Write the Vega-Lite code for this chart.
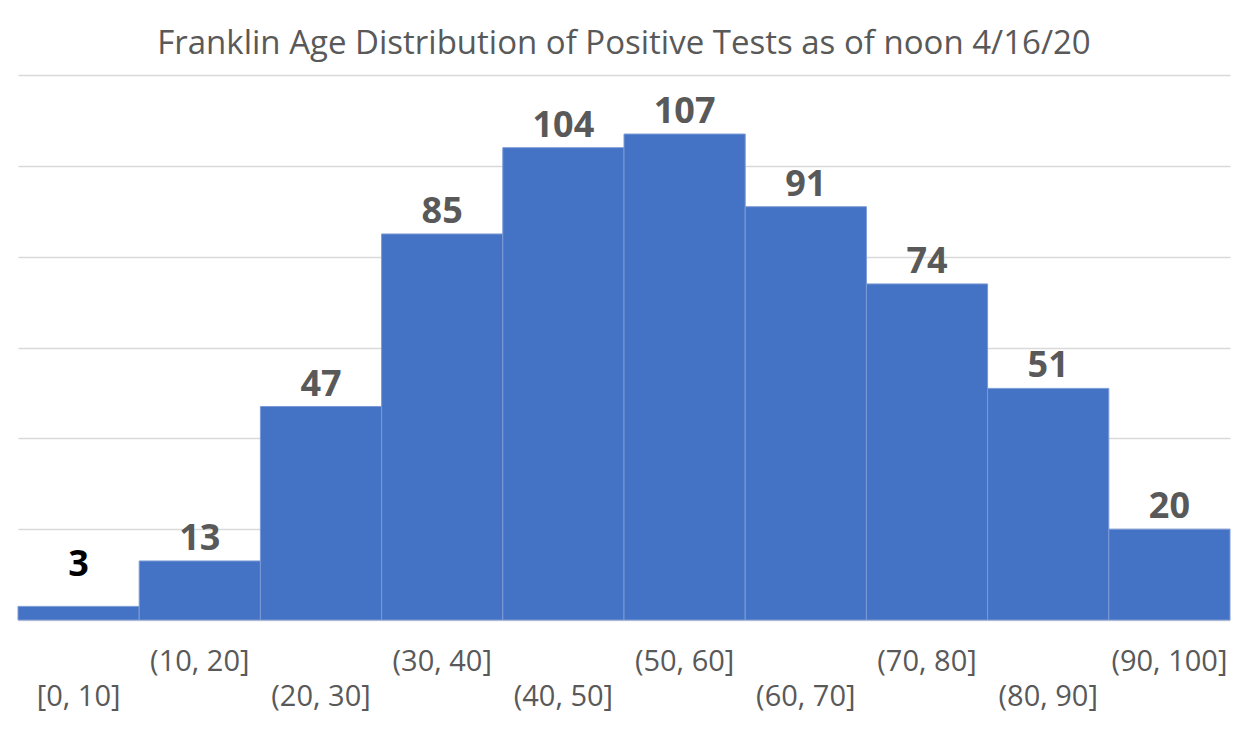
{
  "$schema": "https://vega.github.io/schema/vega-lite/v6.json",
  "width": 1212,
  "height": 545,
  "autosize": {"type": "none"},
  "padding": {"left": 18, "top": 75, "right": 17, "bottom": 110},
  "background": "white",
  "config": {"view": {"stroke": null}},
  "title": {
    "text": "Franklin Age Distribution of Positive Tests as of noon 4/16/20",
    "font": "Open Sans",
    "fontSize": 33,
    "fontWeight": "normal",
    "color": "#595959",
    "anchor": "middle",
    "offset": 14
  },
  "data": {
    "values": [
      {"bin": "[0, 10]", "count": 3},
      {"bin": "(10, 20]", "count": 13},
      {"bin": "(20, 30]", "count": 47},
      {"bin": "(30, 40]", "count": 85},
      {"bin": "(40, 50]", "count": 104},
      {"bin": "(50, 60]", "count": 107},
      {"bin": "(60, 70]", "count": 91},
      {"bin": "(70, 80]", "count": 74},
      {"bin": "(80, 90]", "count": 51},
      {"bin": "(90, 100]", "count": 20}
    ]
  },
  "encoding": {
    "x": {
      "field": "bin",
      "type": "ordinal",
      "sort": null,
      "scale": {"paddingInner": 0, "paddingOuter": 0},
      "axis": {
        "title": null,
        "domain": false,
        "ticks": false,
        "labelAngle": 0,
        "labelFont": "Open Sans",
        "labelFontSize": 29,
        "labelColor": "#595959",
        "labelPadding": 27,
        "labelLineHeight": 35,
        "labelBaseline": "top",
        "labelExpr": "indexof(['[0, 10]','(20, 30]','(40, 50]','(60, 70]','(80, 90]'], datum.value) >= 0 ? ['', datum.value] : datum.value"
      }
    },
    "y": {
      "field": "count",
      "type": "quantitative",
      "scale": {"domain": [0, 120], "nice": false},
      "axis": {
        "title": null,
        "labels": false,
        "ticks": false,
        "domain": false,
        "values": [0, 20, 40, 60, 80, 100, 120],
        "gridColor": "#d9d9d9",
        "gridWidth": 1.5
      }
    }
  },
  "layer": [
    {
      "mark": {"type": "bar", "color": "#4472c4", "stroke": "#7b9ad6", "strokeWidth": 1}
    },
    {
      "transform": [{"filter": "datum.bin != '[0, 10]'"}],
      "mark": {"type": "text", "font": "Open Sans", "fontSize": 36, "fontWeight": "bold", "baseline": "alphabetic", "dy": -11, "color": "#595959"},
      "encoding": {
        "text": {"field": "count", "type": "quantitative"}
      }
    },
    {
      "transform": [{"filter": "datum.bin == '[0, 10]'"}],
      "mark": {"type": "text", "font": "Open Sans", "fontSize": 36, "fontWeight": "bold", "baseline": "alphabetic", "dy": -30, "color": "#000000"},
      "encoding": {
        "text": {"field": "count", "type": "quantitative"}
      }
    }
  ]
}
